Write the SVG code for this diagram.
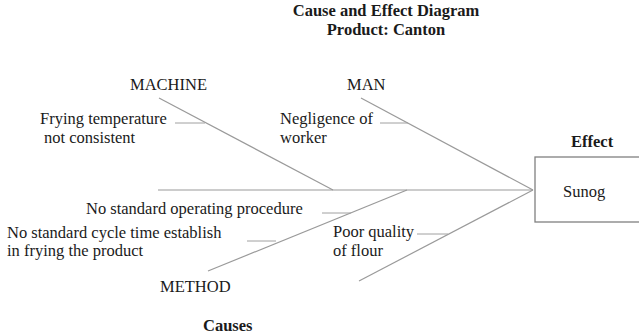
<svg xmlns="http://www.w3.org/2000/svg" width="639" height="336" viewBox="0 0 639 336" font-family="'Liberation Serif', 'Times New Roman', 'DejaVu Serif', serif">
  <style>
    text { font-family: 'Liberation Serif', 'Times New Roman', 'DejaVu Serif', serif; font-size: 16.5px; fill: #1a1a1a; }
    .b { font-weight: bold; }
    .c { text-anchor: middle; }
    .bone { stroke: #9a9a9a; stroke-width: 1.2; fill: none; }
    .tick { stroke: #a0a0a0; stroke-width: 1; fill: none; }
    .box { stroke: #808080; stroke-width: 1.3; fill: #ffffff; }
  </style>
  <rect width="639" height="336" fill="#ffffff"/>

  <!-- heading -->
  <g id="title">
    <text class="b c" x="386" y="16">Cause and Effect Diagram</text>
    <text class="b c" x="386" y="35">Product: Canton</text>
  </g>

  <!-- spine, category bones and cause ticks -->
  <g id="connectors">
    <line class="bone" x1="158" y1="190" x2="533" y2="190"/>
    <line class="bone" x1="159" y1="98" x2="333" y2="190"/>
    <line class="bone" x1="361" y1="98" x2="533" y2="190"/>
    <line class="bone" x1="407" y1="190" x2="208" y2="271"/>
    <line class="bone" x1="533" y1="190" x2="359" y2="281"/>
    <line class="tick" x1="175" y1="123" x2="205" y2="123"/>
    <line class="tick" x1="380" y1="123" x2="408" y2="123"/>
    <line class="tick" x1="322" y1="213" x2="351" y2="213"/>
    <line class="tick" x1="247" y1="241" x2="276" y2="241"/>
    <line class="tick" x1="417" y1="234" x2="448" y2="234"/>
  </g>

  <g id="machine">
    <text x="130" y="90">MACHINE</text>
    <text x="40" y="124">Frying temperature</text>
    <text x="44" y="143">not consistent</text>
  </g>

  <g id="man">
    <text x="347" y="90">MAN</text>
    <text x="280" y="124">Negligence of</text>
    <text x="280" y="143">worker</text>
  </g>

  <g id="method">
    <text x="86" y="214">No standard operating procedure</text>
    <text x="7" y="238">No standard cycle time establish</text>
    <text x="7" y="256">in frying the product</text>
    <text x="160" y="292">METHOD</text>
  </g>

  <g id="material">
    <text x="333" y="237">Poor quality</text>
    <text x="333" y="256">of flour</text>
  </g>

  <g id="effect">
    <text class="b" x="571" y="147">Effect</text>
    <rect class="box" x="535" y="157" width="110" height="65"/>
    <text x="563" y="197">Sunog</text>
  </g>

  <g id="causes">
    <text class="b" x="203" y="331">Causes</text>
  </g>
</svg>
